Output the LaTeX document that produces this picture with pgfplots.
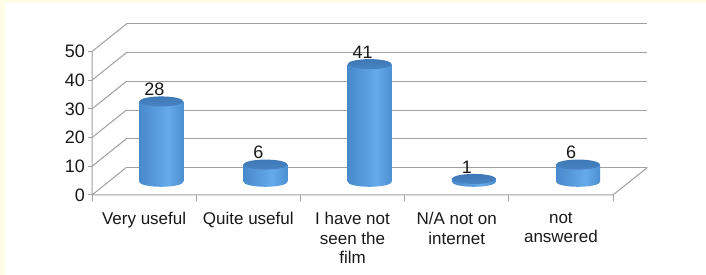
\documentclass[border=0pt]{standalone}
\usepackage{fontspec}
\setmainfont{Liberation Sans}
\usepackage{pgfplots}
\pgfplotsset{compat=1.18}
\usepackage{pgfplotstable}
\definecolor{cream}{HTML}{FFFCE6}
\definecolor{gridgray}{HTML}{A0A0A0}
\definecolor{cyldark}{HTML}{2A5E98}
\definecolor{cylmid}{HTML}{3B7BC0}
\definecolor{cyllight}{HTML}{65AAE9}
\definecolor{toplight}{HTML}{4C89C9}
\definecolor{topdark}{HTML}{3A72B0}
\pgfdeclarehorizontalshading{cyl}{100bp}{color(0bp)=(cyldark); color(10bp)=(cylmid); color(58bp)=(cyllight); color(88bp)=(cylmid); color(100bp)=(cyldark)}
\pgfdeclareverticalshading{cyltopsh}{100bp}{color(0bp)=(toplight); color(100bp)=(topdark)}
\pgfdeclareplotmark{cylbot}{%
  \pgfpathellipse{\pgfpointorigin}{\pgfqpoint{22pt}{0pt}}{\pgfqpoint{0pt}{5pt}}%
  \pgfshadepath{cyl}{0}\pgfusepath{}}
\pgfdeclareplotmark{cyltop}{%
  \pgfpathellipse{\pgfpointorigin}{\pgfqpoint{22pt}{0pt}}{\pgfqpoint{0pt}{5pt}}%
  \pgfshadepath{cyltopsh}{0}\pgfusepath{}}

\pgfplotstableread{
x v
0 28
1 6
2 41
3 1
4 6
}\datatable

\pgfplotsset{
  chartbox/.style={
    at={(92pt,80pt)}, anchor=south west, scale only axis,
    width=573.1pt, height=172.2pt, clip=false,
  },
  cylbody/.style={ybar, bar width=44pt, bar shift=0pt, draw=none, shade, shading=cyl},
}

\begin{document}
\begin{tikzpicture}
\useasboundingbox (0,0) rectangle (706pt,275pt);
\fill[cream] (0,0) rectangle (706pt,275pt);
\fill[white] (5pt,0) rectangle (706pt,272pt);

\begin{axis}[
  chartbox,
  xmin=0, xmax=5.5, ymin=0, ymax=60,
  axis line style={draw=none},
  xtick={0.5,1.5,2.5,3.5,4.5},
  xticklabels={Very useful, Quite useful, {I have not\\seen the\\film}, {N/A not on\\internet}, {not\\answered}},
  xtick style={draw=none},
  ytick={0,10,20,30,40,50},
  ytick pos=left, tick align=outside, major tick length=4pt,
  ytick style={draw=gridgray, line width=1pt},
  xticklabel style={align=center, font=\fontsize{17}{19.5}\selectfont, anchor=north, inner sep=0pt, yshift=-13pt, text=black!90},
  yticklabel style={font=\fontsize{18}{20}\selectfont, anchor=east, inner sep=0pt, xshift=-3pt, text=black!90},
  /pgf/number format/assume math mode=true,
  unbounded coords=jump,
]
% back wall horizontal gridlines
\addplot[gridgray, line width=1pt] coordinates {
  (0.33,9.6) (5.33,9.6) (nan,nan)
  (0.33,19.6) (5.33,19.6) (nan,nan)
  (0.33,29.6) (5.33,29.6) (nan,nan)
  (0.33,39.6) (5.33,39.6) (nan,nan)
  (0.33,49.6) (5.33,49.6) (nan,nan)
  (0.33,59.6) (5.33,59.6)
};
% side wall slanted gridlines
\addplot[gridgray, line width=1pt] coordinates {
  (0,0) (0.33,9.6) (nan,nan)
  (0,10) (0.33,19.6) (nan,nan)
  (0,20) (0.33,29.6) (nan,nan)
  (0,30) (0.33,39.6) (nan,nan)
  (0,40) (0.33,49.6) (nan,nan)
  (0,50) (0.33,59.6)
};
% front axis and floor edges
\addplot[gridgray, line width=1pt] coordinates {
  (0,50) (0,0) (5,0) (5.33,9.6)
};
% category tick marks
\addplot[gridgray, line width=1pt] coordinates {
  (0,0) (0,-2.1) (nan,nan)
  (1,0) (1,-2.1) (nan,nan)
  (2,0) (2,-2.1) (nan,nan)
  (3,0) (3,-2.1) (nan,nan)
  (4,0) (4,-2.1) (nan,nan)
  (5,0) (5,-2.1)
};
\end{axis}

\begin{axis}[
  chartbox,
  xmin=-0.665, xmax=4.835, ymin=-4.6, ymax=55.4,
  hide axis,
  /pgf/number format/assume math mode=true,
]
\addplot[only marks, mark=cylbot] table[x=x, y expr=0] {\datatable};
\addplot[cylbody, restrict x to domain=-0.1:0.1] table[x=x, y=v] {\datatable};
\addplot[cylbody, restrict x to domain=0.9:1.1] table[x=x, y=v] {\datatable};
\addplot[cylbody, restrict x to domain=1.9:2.1] table[x=x, y=v] {\datatable};
\addplot[cylbody, restrict x to domain=2.9:3.1] table[x=x, y=v] {\datatable};
\addplot[cylbody, restrict x to domain=3.9:4.1] table[x=x, y=v] {\datatable};
\addplot[only marks, mark=cyltop, nodes near coords, point meta=explicit,
  every node near coord/.append style={anchor=south, inner sep=0pt, xshift=-7pt, yshift=5.5pt, font=\fontsize{18}{20}\selectfont, text=black!90}]
  table[x=x, y=v, meta=v] {\datatable};
\end{axis}
\end{tikzpicture}
\end{document}
